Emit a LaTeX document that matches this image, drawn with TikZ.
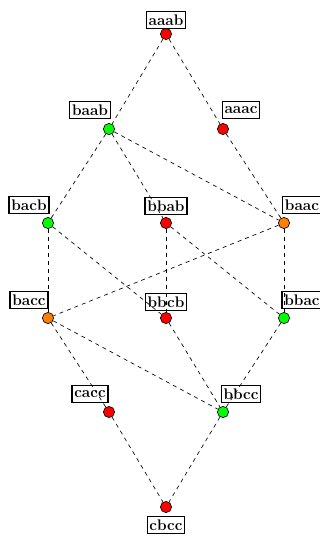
\documentclass[tikz,border=0pt]{standalone}
\usepackage{tikz}

\tikzset{every picture/.style={line width=0.75pt}}
\tikzset{
  state/.style={circle,draw,line width=0.5pt,inner sep=0pt,minimum size=8.4pt},
  word/.style={draw,line width=1pt,inner sep=1.7pt,minimum height=13pt,font=\fontsize{11.5}{13}\selectfont\bfseries},
  link/.style={dashed,line width=0.5pt}
}

\begin{document}
\begin{tikzpicture}[x=0.75pt,y=0.75pt,yscale=-1,xscale=1]
\useasboundingbox (0,0) rectangle (320,539);

%Shape: Circle (states)
\node [state,fill=red]    (aaab) at (166,34) {};
\node [state,fill=green]  (baab) at (109,129) {};
\node [state,fill=red]    (aaac) at (223,129) {};
\node [state,fill=green]  (bacb) at (48,223) {};
\node [state,fill=red]    (bbab) at (166,223) {};
\node [state,fill=orange] (baac) at (284,223) {};
\node [state,fill=orange] (bacc) at (48,318) {};
\node [state,fill=red]    (bbcb) at (166,318) {};
\node [state,fill=green]  (bbac) at (284,318) {};
\node [state,fill=red]    (cacc) at (109,412) {};
\node [state,fill=green]  (bbcc) at (223,412) {};
\node [state,fill=red]    (cbcc) at (166,507) {};

%Straight Lines
\draw [link] (aaab) -- (baab) ;
\draw [link] (aaab) -- (aaac) ;
\draw [link] (baab) -- (bacb) ;
\draw [link] (baab) -- (bbab) ;
\draw [link] (baab) -- (baac) ;
\draw [link] (aaac) -- (baac) ;
\draw [link] (bacb) -- (bacc) ;
\draw [link] (bacb) -- (bbcb) ;
\draw [link] (bbab) -- (bbcb) ;
\draw [link] (bbab) -- (bbac) ;
\draw [link] (baac) -- (bacc) ;
\draw [link] (baac) -- (bbac) ;
\draw [link] (bacc) -- (cacc) ;
\draw [link] (bacc) -- (bbcc) ;
\draw [link] (bbcb) -- (bbcc) ;
\draw [link] (bbac) -- (bbcc) ;
\draw [link] (cacc) -- (cbcc) ;
\draw [link] (bbcc) -- (cbcc) ;

% Text Node
\node [word] (laaab) at (166,20) {aaab};
% Text Node
\node [word] (lbaab) at (90,110) {baab};
% Text Node
\node [word] (laaac) at (241,110) {aaac};
% Text Node
\node [word] (lbacb) at (29,205) {bacb};
% Text Node
\node [word] (lbbab) at (166,206) {bbab};
% Text Node
\node [word] (lbaac) at (302,205) {baac};
% Text Node
\node [word] (lbacc) at (29,300) {bacc};
% Text Node
\node [word] (lbbcb) at (166,302) {bbcb};
% Text Node
\node [word] (lbbac) at (302,300) {bbac};
% Text Node
\node [word] (lcacc) at (90,394) {cacc};
% Text Node
\node [word] (lbbcc) at (241,394) {bbcc};
% Text Node
\node [word] (lcbcc) at (166,525) {cbcc};

\end{tikzpicture}
\end{document}
